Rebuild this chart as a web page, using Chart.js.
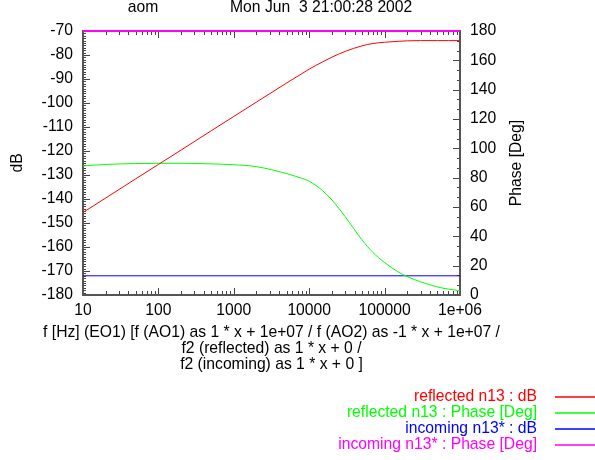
<!DOCTYPE html>
<html>
<head>
<meta charset="utf-8">
<script src="https://cdn.jsdelivr.net/npm/chart.js@4/dist/chart.umd.min.js"></script>
<style>
  html, body { margin: 0; padding: 0; background: #fff; }
  #wrap { width: 595px; height: 460px; }
</style>
</head>
<body>
<div id="wrap"><canvas id="bode" width="595" height="460"></canvas></div>
<script>
// frequencies (Hz) the curves were read at
const freqs = [10, 20, 50, 100, 200, 500, 1000, 2000, 5000, 7500, 10000, 15000, 20000,
               30000, 50000, 70000, 100000, 150000, 200000, 300000, 500000, 700000, 1000000];
const reflectedDb = [-145.6, -139.6, -131.6, -125.6, -119.6, -111.6, -105.6, -99.6, -91.7, -88.3,
                     -85.9, -82.9, -80.9, -78.5, -76.2, -75.2, -74.7, -74.3, -74.1, -74.0, -74.0, -74.0, -74.0];
const reflectedPhase = [88.0, 89.0, 89.6, 89.8, 89.8, 89.4, 88.8, 87.5, 82.8, 80.0,
                        77.6, 71.2, 64.8, 53.4, 37.7, 29.0, 22.1, 15.9, 12.5, 9.0, 5.5, 4.0, 2.9];
const incomingFreqs = [10, 1000000];
const incomingDb = [-172, -172];
const incomingPhase = [180, 180];

const xTickValues = [10, 100, 1000, 10000, 100000, 1000000];
const xTickLabels = ['10', '100', '1000', '10000', '100000', '1e+06'];
const seriesNames = ['reflected n13 : dB', 'reflected n13 : Phase [Deg]',
                     'incoming n13* : dB', 'incoming n13* : Phase [Deg]'];
const seriesColors = ['#ff0000', '#00ff00', '#0000ff', '#ff00ff'];
const xTitleLines = [
  'f [Hz] (EO1) [f (AO1) as 1 * x + 1e+07 / f (AO2) as -1 * x + 1e+07 /',
  'f2 (reflected) as 1 * x + 0 /',
  'f2 (incoming) as 1 * x + 0 ]'
];

const FONT = 'Liberation Sans, Arial, Helvetica, sans-serif';
const FSIZE = 15.7;
const baseFont = { family: FONT, size: FSIZE, lineHeight: 16 / FSIZE };

function pts(xs, ys) {
  return xs.map((x, i) => ({ x: x, y: ys[i] }));
}

// frame with gnuplot style inner ticks
const framePlugin = {
  id: 'frame',
  beforeDatasetsDraw(chart) {
    const { ctx, chartArea: a, scales } = chart;
    ctx.save();
    ctx.strokeStyle = '#444';
    ctx.lineWidth = 1;
    ctx.beginPath();
    // x ticks, bottom and top
    for (let d = 10; d <= 1000000; d *= 10) {
      for (let m = 1; m <= 9; m++) {
        const v = d * m;
        if (v > 1000000) break;
        const px = Math.round(scales.x.getPixelForValue(v)) + 0.5;
        const len = m === 1 ? 7 : 4;
        ctx.moveTo(px, a.bottom); ctx.lineTo(px, a.bottom - len);
        ctx.moveTo(px, a.top); ctx.lineTo(px, a.top + len);
      }
    }
    // left ticks
    for (let v = -180; v <= -70; v++) {
      const py = Math.round(scales.y.getPixelForValue(v)) + 0.5;
      const len = v % 10 === 0 ? 7 : 3;
      ctx.moveTo(a.left, py); ctx.lineTo(a.left + len, py);
    }
    // right ticks
    for (let k = 0; k <= 27; k++) {
      const v = k * 20 / 3;
      const py = Math.round(scales.y2.getPixelForValue(v)) + 0.5;
      const len = k % 3 === 0 ? 7 : 3;
      ctx.moveTo(a.right, py); ctx.lineTo(a.right - len, py);
    }
    ctx.stroke();
    ctx.lineWidth = 2;
    ctx.strokeStyle = '#555';
    ctx.strokeRect(a.left, a.top, a.right - a.left, a.bottom - a.top);
    ctx.restore();
  },
  afterDraw(chart) {
    const { ctx, chartArea: a } = chart;
    ctx.save();
    ctx.font = FSIZE + 'px ' + FONT;
    ctx.fillStyle = '#000';
    ctx.textBaseline = 'middle';
    ctx.textAlign = 'center';
    ctx.fillText('aom', 143, 8);
    ctx.textAlign = 'left';
    ctx.fillText('Mon Jun  3 21:00:28 2002', 230, 8);

    // x axis title, wider than the plot
    ctx.textAlign = 'center';
    const cx = (a.left + a.right) / 2;
    xTitleLines.forEach((line, i) => ctx.fillText(line, cx, 333 + i * 16));

    // right axis title, reading upwards
    ctx.save();
    ctx.translate(517, (a.top + a.bottom) / 2);
    ctx.rotate(-Math.PI / 2);
    ctx.textAlign = 'center';
    ctx.fillText('Phase [Deg]', 0, 0);
    ctx.restore();

    // legend
    seriesNames.forEach((name, i) => {
      const y = 397 + i * 16;
      ctx.fillStyle = seriesColors[i];
      ctx.textAlign = 'right';
      ctx.fillText(name, 537, y);
      ctx.strokeStyle = seriesColors[i];
      ctx.lineWidth = 1.3;
      ctx.beginPath();
      ctx.moveTo(555, y);
      ctx.lineTo(595, y);
      ctx.stroke();
    });
    ctx.restore();
  }
};

const ctx = document.getElementById('bode').getContext('2d');
new Chart(ctx, {
  type: 'line',
  data: {
    datasets: [
      { label: seriesNames[0], data: pts(freqs, reflectedDb), yAxisID: 'y',
        borderColor: seriesColors[0], cubicInterpolationMode: 'monotone' },
      { label: seriesNames[1], data: pts(freqs, reflectedPhase), yAxisID: 'y2',
        borderColor: seriesColors[1], cubicInterpolationMode: 'monotone' },
      { label: seriesNames[2], data: pts(incomingFreqs, incomingDb), yAxisID: 'y',
        borderColor: seriesColors[2] },
      { label: seriesNames[3], data: pts(incomingFreqs, incomingPhase), yAxisID: 'y2',
        borderColor: seriesColors[3], borderWidth: 2, clip: false }
    ]
  },
  options: {
    responsive: false,
    animation: false,
    devicePixelRatio: 1,
    layout: { padding: { top: 31, bottom: 87, left: 0, right: 0 } },
    elements: { point: { radius: 0 }, line: { borderWidth: 1, fill: false } },
    plugins: { legend: { display: false }, tooltip: { enabled: false } },
    scales: {
      x: {
        type: 'logarithmic', min: 10, max: 1000000, position: 'bottom',
        grid: { display: false, drawTicks: false }, border: { display: false },
        afterBuildTicks: s => { s.ticks = xTickValues.map(v => ({ value: v })); },
        ticks: {
          autoSkip: false, maxRotation: 0, padding: 8, color: '#000', font: baseFont,
          callback: (v, i) => xTickLabels[i]
        },
        afterFit: s => { s.height = 78; }
      },
      y: {
        type: 'linear', position: 'left', min: -180, max: -70,
        grid: { display: false, drawTicks: false }, border: { display: false },
        ticks: { stepSize: 10, padding: 10, color: '#000', font: baseFont },
        title: { display: true, text: 'dB', color: '#000', font: baseFont,
                 padding: { top: 10, bottom: 0 } },
        afterFit: s => { s.width = 83; }
      },
      y2: {
        type: 'linear', position: 'right', min: 0, max: 180,
        grid: { display: false, drawTicks: false }, border: { display: false },
        ticks: { stepSize: 20, padding: 10, color: '#000', font: baseFont },
        afterFit: s => { s.width = 135; }
      }
    }
  },
  plugins: [framePlugin]
});
</script>
</body>
</html>
